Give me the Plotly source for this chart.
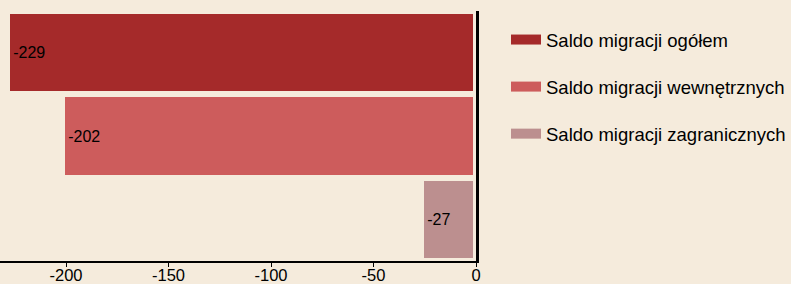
import plotly.graph_objects as go

categories = ["Saldo migracji ogółem", "Saldo migracji wewnętrznych", "Saldo migracji zagranicznych"]
values = [-229, -202, -27]
colors = ["#A52A2A", "#CD5C5C", "#BC8F8F"]
tick_vals = [-200, -150, -100, -50, 0]
tick_text = ["-200", "-150", "-100", "-50", "0"]

BG = "#F5EBDC"
FONT = "Liberation Sans, Arial, sans-serif"

fig = go.Figure()
for cat, val, col in zip(categories, values, colors):
    fig.add_trace(go.Bar(
        x=[val], y=[cat], orientation="h",
        marker=dict(color=col, line=dict(color=BG, width=6)),
        text=[str(val)], texttemplate="\u2009%{text}",
        textposition="inside", insidetextanchor="end",
        textfont=dict(color="black", size=16, family=FONT),
        showlegend=False, cliponaxis=False,
    ))
for cat, col in zip(categories, colors):
    fig.add_trace(go.Scatter(
        x=[None], y=[None], mode="lines", name=cat,
        line=dict(color=col, width=10), legendgroup=cat,
    ))

fig.update_layout(
    width=791, height=284,
    margin=dict(l=0, r=315, t=11, b=23, autoexpand=False),
    paper_bgcolor=BG, plot_bgcolor=BG,
    barmode="overlay", bargap=0,
    font=dict(family=FONT, size=16, color="black"),
    showlegend=True,
    legend=dict(x=0.6397, y=0.926, xref="container", yref="container",
                xanchor="left", yanchor="top",
                font=dict(size=18.5, color="black", family=FONT),
                tracegroupgap=20, bgcolor="rgba(0,0,0,0)"),
    uniformtext=dict(mode=False),
)
fig.update_xaxes(range=[-232.2, 0], tickvals=tick_vals, ticktext=tick_text,
                 ticks="outside", ticklen=4, automargin=False, ticklabelstandoff=-6,
                 tickcolor="black", showline=True, linecolor="black", linewidth=2,
                 showgrid=False, zeroline=False, tickfont=dict(size=16.5))
fig.update_yaxes(categoryorder="array", categoryarray=categories, autorange="reversed",
                 side="right", showline=True, linecolor="black", linewidth=2.5,
                 showticklabels=False, ticks="", showgrid=False, zeroline=False,
                 automargin=False)

fig.write_html("out.html", config={"displayModeBar": False},
               post_script="document.body.style.margin='0';")
